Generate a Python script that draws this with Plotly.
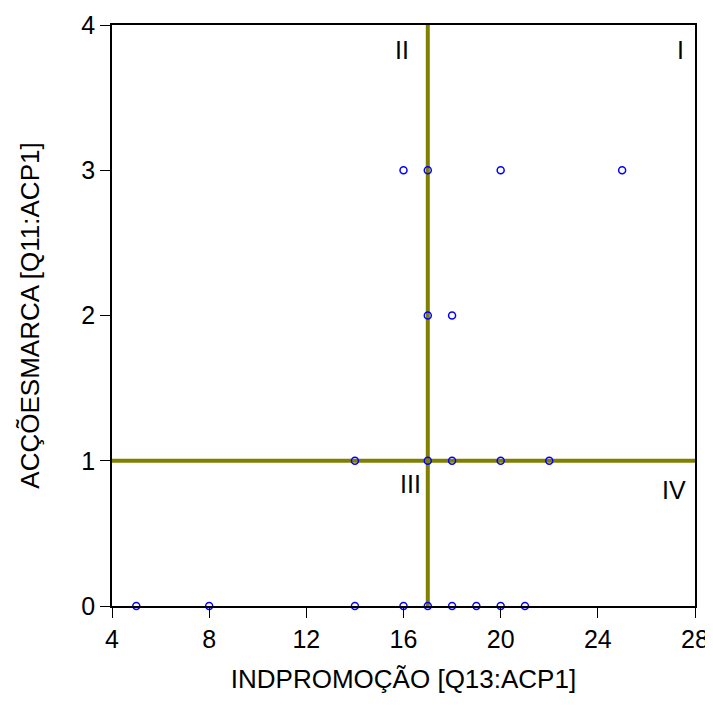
import plotly.graph_objects as go

x_vals = [5, 8, 14, 16, 17, 18, 19, 20, 21, 14, 17, 18, 20, 22, 17, 18, 16, 17, 20, 25]
y_vals = [0, 0, 0, 0, 0, 0, 0, 0, 0, 1, 1, 1, 1, 1, 2, 2, 3, 3, 3, 3]
x_ref = 17
y_ref = 1
x_ticks = [4, 8, 12, 16, 20, 24, 28]
y_ticks = [0, 1, 2, 3, 4]
quad_labels = ["I", "II", "III", "IV"]
x_title = "INDPROMOÇÃO [Q13:ACP1]"
y_title = "ACÇÕESMARCA [Q11:ACP1]"

FONT = "Arial, Liberation Sans, sans-serif"

fig = go.Figure()
fig.add_trace(go.Scatter(
    x=x_vals, y=y_vals, mode="markers",
    marker=dict(symbol="circle-open", size=7, color="#0000ff", line=dict(width=1.5, color="#0000ff")),
    showlegend=False, cliponaxis=False,
))

fig.add_shape(type="line", x0=x_ref, x1=x_ref, y0=0, y1=1, xref="x", yref="paper",
              line=dict(color="#808000", width=4), layer="below")
fig.add_shape(type="line", x0=0, x1=1, y0=y_ref, y1=y_ref, xref="paper", yref="y",
              line=dict(color="#808000", width=4), layer="below")

font_ann = dict(family=FONT, size=25, color="#000000")
ann_pos = [(27.4, 3.83), (15.94, 3.83), (16.27, 0.84), (27.13, 0.80)]
for lab, (ax, ay) in zip(quad_labels, ann_pos):
    fig.add_annotation(x=ax, y=ay, text=lab, showarrow=False, font=font_ann,
                       xanchor="center", yanchor="middle")

axis_common = dict(
    showgrid=False, zeroline=False, showline=True, linecolor="#000000", linewidth=1.5,
    mirror=True, ticks="outside", ticklen=10, tickcolor="#000000", tickwidth=1,
    tickfont=dict(family=FONT, size=25, color="#000000"), automargin=False,
)
fig.update_xaxes(range=[4, 28], tickvals=x_ticks, ticktext=[str(v) for v in x_ticks],
                 title=dict(text=x_title, standoff=18,
                            font=dict(family=FONT, size=26, color="#000000")),
                 **axis_common)
fig.update_yaxes(range=[0, 4], tickvals=y_ticks, ticktext=[str(v) for v in y_ticks],
                 title=dict(text=y_title, standoff=34,
                            font=dict(family=FONT, size=26, color="#000000")),
                 **axis_common)

fig.update_layout(
    width=705, height=711,
    margin=dict(l=104, r=18, t=17, b=113, autoexpand=False),
    plot_bgcolor="#ffffff", paper_bgcolor="#ffffff",
)
fig.write_html("out.html")
